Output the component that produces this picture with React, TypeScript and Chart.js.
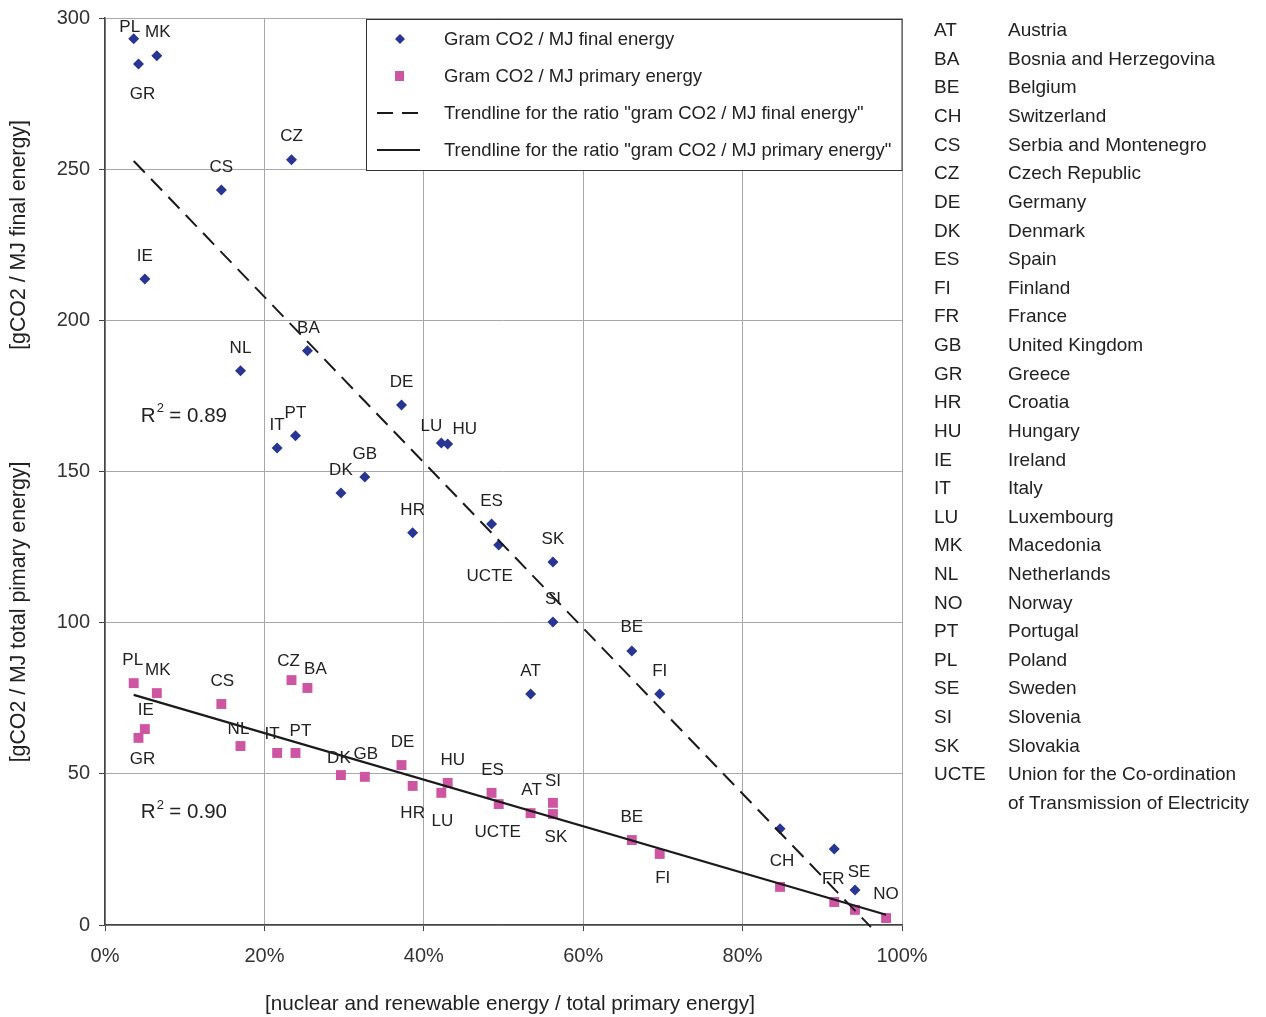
import React, { useEffect, useRef } from "react";
import { Chart, registerables } from "chart.js";

Chart.register(...registerables);

// ---- Data ----
const countries = ["AT", "BA", "BE", "CH", "CS", "CZ", "DE", "DK", "ES", "FI", "FR", "GB", "GR", "HR", "HU", "IE", "IT", "LU", "MK", "NL", "NO", "PT", "PL", "SE", "SI", "SK", "UCTE"];
const countryNames = ["Austria", "Bosnia and Herzegovina", "Belgium", "Switzerland", "Serbia and Montenegro", "Czech Republic", "Germany", "Denmark", "Spain", "Finland", "France", "United Kingdom", "Greece", "Croatia", "Hungary", "Ireland", "Italy", "Luxembourg", "Macedonia", "Netherlands", "Norway", "Portugal", "Poland", "Sweden", "Slovenia", "Slovakia", "Union for the Co-ordination"];
const countryNameExtra = "of Transmission of Electricity";

// share of nuclear + renewable energy in total primary energy (%)
const shareRenewable = [53.4, 25.4, 66.1, 84.7, 14.6, 23.4, 37.2, 29.6, 48.5, 69.6, 91.5, 32.6, 4.2, 38.6, 43.0, 5.0, 21.6, 42.2, 6.5, 17.0, 98.0, 23.9, 3.6, 94.1, 56.2, 56.2, 49.4];
// gram CO2 / MJ final energy
const co2Final = [76.4, 189.9, 90.6, 31.8, 243.1, 253.1, 172.0, 142.9, 132.6, 76.4, 25.1, 148.2, 284.8, 129.7, 159.1, 213.7, 157.8, 159.4, 287.5, 183.3, null, 161.8, 293.1, 11.6, 100.2, 120.1, 125.7];
// gram CO2 / MJ primary energy
const co2Primary = [37.0, 78.4, 28.1, 12.6, 73.1, 81.0, 52.9, 49.6, 43.7, 23.5, 7.6, 49.0, 61.9, 46.0, 47.0, 64.8, 56.9, 43.7, 76.7, 59.2, 2.3, 56.9, 80.0, 5.0, 40.4, 36.7, 40.0];

// trendline end points
const trendFinalX = [3.6, 96.1];
const trendFinalY = [252.7, -0.7];
const trendPrimaryX = [3.6, 98.0];
const trendPrimaryY = [76.1, 3.4];

const r2Values = ["0.89", "0.90"];
const r2AnchorX = [4.5, 4.5];
const r2AnchorY = [168.4, 37.4];

const xTickValues = [0, 20, 40, 60, 80, 100];
const yTickValues = [0, 50, 100, 150, 200, 250, 300];

const legendLabels = [
  "Gram CO2 / MJ final energy",
  "Gram CO2 / MJ primary energy",
  'Trendline for the ratio "gram CO2 / MJ final energy"',
  'Trendline for the ratio "gram CO2 / MJ primary energy"',
];

const xAxisTitle = "[nuclear and renewable energy / total primary energy]";
const yAxisTitleTop = "[gCO2 / MJ final energy]";
const yAxisTitleBottom = "[gCO2 / MJ total pimary energy]";

// ---- Label placement (pixel offsets from each marker) ----
const finalLabelOffsets: Record<string, [number, number] | null> = {
  AT: [0, -23], BA: [1, -23], BE: [0, -24], CH: null, CS: [0, -23], CZ: [0, -23], DE: [0, -23], DK: [0, -23],
  ES: [0, -23], FI: [0, -23], FR: null, GB: [0, -23], GR: [4, 30], HR: [0, -23], HU: [17, -15], IE: [0, -23],
  IT: [0, -23], LU: [-10, -17], MK: [1, -23], NL: [0, -23], NO: null, PT: [0, -23], PL: [-4, -12], SE: null,
  SI: [0, -23], SK: [0, -23], UCTE: [-9, 31],
};
const primaryLabelOffsets: Record<string, [number, number] | null> = {
  AT: [1, -23], BA: [8, -19], BE: [0, -23], CH: [2, -26], CS: [1, -23], CZ: [-3, -19], DE: [1, -23], DK: [-2, -17],
  ES: [1, -23], FI: [3, 24], FR: [-1, -23], GB: [1, -23], GR: [4, 21], HR: [0, 27], HU: [5, -23], IE: [1, -19],
  IT: [-5, -19], LU: [1, 28], MK: [1, -23], NL: [-2, -17], NO: [0, -24], PT: [5, -22], PL: [-1, -23], SE: [4, -38],
  SI: [0, -22], SK: [3, 23], UCTE: [-1, 28],
};

const FONT = "'Liberation Sans', Arial, Helvetica, sans-serif";
const BLUE = "#283593";
const PINK = "#cd55a2";
const TEXT = "#222222";

const finalIdx = countries.map((_, i) => i).filter((i) => co2Final[i] !== null);
const primaryIdx = countries.map((_, i) => i);

const overlayPlugin = {
  id: "overlay",
  afterDraw(chart: any) {
    const ctx = chart.ctx as CanvasRenderingContext2D;
    const xs = chart.scales.x;
    const ys = chart.scales.y;
    ctx.save();

    // point labels
    ctx.font = `17px ${FONT}`;
    ctx.fillStyle = TEXT;
    ctx.textAlign = "center";
    ctx.textBaseline = "middle";
    const drawLabels = (dsIndex: number, idx: number[], offsets: Record<string, [number, number] | null>) => {
      const meta = chart.getDatasetMeta(dsIndex);
      meta.data.forEach((el: any, k: number) => {
        const code = countries[idx[k]];
        const off = offsets[code];
        if (!off) return;
        ctx.fillText(code, el.x + off[0], el.y + off[1]);
      });
    };
    drawLabels(3, finalIdx, finalLabelOffsets);
    drawLabels(2, primaryIdx, primaryLabelOffsets);

    // R^2 annotations
    ctx.textAlign = "left";
    r2Values.forEach((v, i) => {
      const px = xs.getPixelForValue(r2AnchorX[i]);
      const py = ys.getPixelForValue(r2AnchorY[i]);
      ctx.font = `20.5px ${FONT}`;
      ctx.fillText("R", px, py);
      const w = ctx.measureText("R").width;
      ctx.font = `13px ${FONT}`;
      ctx.fillText("2", px + w + 1, py - 7);
      ctx.font = `20.5px ${FONT}`;
      ctx.fillText(" = " + v, px + w + 8, py);
    });

    // legend box
    const lx = 366.5, ly = 19.5, lw = 535.5, lh = 151;
    ctx.fillStyle = "#ffffff";
    ctx.fillRect(lx, ly, lw, lh);
    ctx.strokeStyle = "#333333";
    ctx.lineWidth = 1;
    ctx.strokeRect(lx, ly, lw, lh);
    const rowsY = [39, 76, 113, 150];
    ctx.font = `18.5px ${FONT}`;
    ctx.textBaseline = "middle";
    legendLabels.forEach((t, i) => {
      const y = rowsY[i];
      if (i === 0) {
        ctx.fillStyle = BLUE;
        ctx.beginPath();
        ctx.moveTo(400, y - 5);
        ctx.lineTo(405, y);
        ctx.lineTo(400, y + 5);
        ctx.lineTo(395, y);
        ctx.closePath();
        ctx.fill();
      } else if (i === 1) {
        ctx.fillStyle = PINK;
        ctx.fillRect(395, y - 5, 9, 10);
      } else {
        ctx.strokeStyle = "#1a1a1a";
        ctx.lineWidth = 2;
        ctx.setLineDash(i === 2 ? [16, 9] : []);
        ctx.beginPath();
        ctx.moveTo(377, y);
        ctx.lineTo(420, y);
        ctx.stroke();
        ctx.setLineDash([]);
      }
      ctx.fillStyle = TEXT;
      ctx.fillText(t, 444, y + 1);
    });

    // country list
    ctx.font = `19px ${FONT}`;
    ctx.fillStyle = TEXT;
    const rowH = 28.62;
    countries.forEach((c, i) => {
      const y = 31 + i * rowH;
      ctx.fillText(c, 934, y);
      ctx.fillText(countryNames[i], 1008, y);
    });
    ctx.fillText(countryNameExtra, 1008, 31 + countries.length * rowH);

    // axis titles
    ctx.font = `20.7px ${FONT}`;
    ctx.textAlign = "center";
    ctx.fillText(xAxisTitle, 510, 1004);
    ctx.font = `21.3px ${FONT}`;
    ctx.save();
    ctx.translate(19, 235);
    ctx.rotate(-Math.PI / 2);
    ctx.fillText(yAxisTitleTop, 0, 0);
    ctx.restore();
    ctx.save();
    ctx.translate(19, 612);
    ctx.rotate(-Math.PI / 2);
    ctx.fillText(yAxisTitleBottom, 0, 0);
    ctx.restore();

    ctx.restore();
  },
};

export default function App() {
  const ref = useRef<HTMLCanvasElement | null>(null);
  useEffect(() => {
    if (!ref.current) return;
    const chart = new Chart(ref.current, {
      type: "scatter",
      data: {
        datasets: [
          {
            type: "line",
            label: legendLabels[2],
            data: trendFinalX.map((x, i) => ({ x, y: trendFinalY[i] })),
            borderColor: "#1a1a1a",
            borderWidth: 2,
            borderDash: [16, 9],
            pointRadius: 0,
            fill: false,
            clip: false,
          } as any,
          {
            type: "line",
            label: legendLabels[3],
            data: trendPrimaryX.map((x, i) => ({ x, y: trendPrimaryY[i] })),
            borderColor: "#1a1a1a",
            borderWidth: 2.2,
            pointRadius: 0,
            fill: false,
            clip: false,
          } as any,
          {
            label: legendLabels[1],
            data: primaryIdx.map((i) => ({ x: shareRenewable[i], y: co2Primary[i] })),
            pointStyle: "rect",
            pointRadius: 7,
            backgroundColor: PINK,
            borderColor: PINK,
            borderWidth: 0,
          },
          {
            label: legendLabels[0],
            data: finalIdx.map((i) => ({ x: shareRenewable[i], y: co2Final[i] as number })),
            pointStyle: "rectRot",
            pointRadius: 5.5,
            backgroundColor: BLUE,
            borderColor: BLUE,
            borderWidth: 0,
          },
        ],
      },
      options: {
        responsive: false,
        animation: false,
        events: [],
        layout: { padding: { top: 18, right: 364, bottom: 0, left: 0 } },
        plugins: {
          legend: { display: false },
          tooltip: { enabled: false },
          title: { display: false },
        },
        scales: {
          x: {
            type: "linear",
            min: 0,
            max: 100,
            afterFit: (s: any) => {
              s.height = 92;
            },
            afterBuildTicks: (s: any) => {
              s.ticks = xTickValues.map((v) => ({ value: v }));
            },
            ticks: {
              callback: (v: any) => v + "%",
              font: { family: FONT, size: 20 },
              color: "#333",
              padding: 13,
              maxRotation: 0,
            },
            grid: { color: "#a8a8a8", lineWidth: 1, tickLength: 6, tickColor: "#444" },
            border: { color: "#444", width: 1.5 },
          },
          y: {
            type: "linear",
            min: 0,
            max: 300,
            afterFit: (s: any) => {
              s.width = 105;
              s.paddingTop = 0;
              s.paddingBottom = 0;
            },
            afterBuildTicks: (s: any) => {
              s.ticks = yTickValues.map((v) => ({ value: v }));
            },
            ticks: {
              font: { family: FONT, size: 20 },
              color: "#333",
              padding: 9,
            },
            grid: { color: "#a8a8a8", lineWidth: 1, tickLength: 6, tickColor: "#444" },
            border: { color: "#444", width: 1.5 },
          },
        },
      },
      plugins: [overlayPlugin],
    });
    return () => chart.destroy();
  }, []);
  return (
    <div style={{ position: "absolute", left: 0, top: 0, width: 1266, height: 1017, background: "#fff" }}>
      <canvas ref={ref} width={1266} height={1017} style={{ display: "block" }} />
    </div>
  );
}
